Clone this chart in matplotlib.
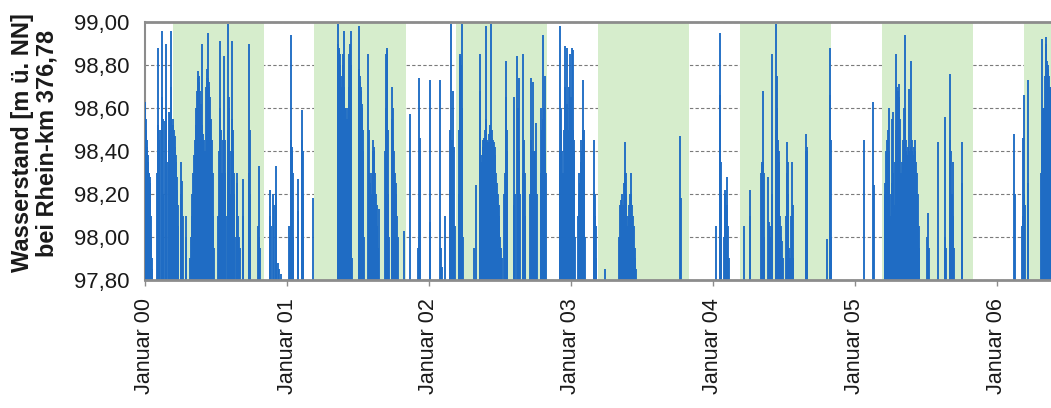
import datetime as dt
import matplotlib
matplotlib.use("Agg")
import matplotlib.pyplot as plt

# ---------------- data (day of year, water level) ----------------
years = [2000, 2001, 2002, 2003, 2004, 2005, 2006]

days_2000 = [0, 1, 2, 3, 4, 5, 6, 7, 8, 9, 10, 11, 12, 13, 14, 15, 16, 17, 18,
             32, 33, 34, 35, 36, 37, 42, 43, 44, 45, 46, 47, 52, 53, 54, 55, 56,
             61, 62, 65, 66, 67, 68,
             70, 71, 72, 73, 74, 75, 76, 77, 78, 79, 80, 81, 82, 83, 84, 85,
             92, 93, 96, 97, 105, 106,
             116, 118, 120, 122, 124, 126, 128, 130, 132, 134, 136, 137, 138, 140,
             142, 144, 146, 148, 150, 152, 154,
             158, 159, 160, 161, 162, 164, 166, 168, 170, 172, 174, 176, 178,
             188, 190, 192, 194, 195, 197, 198, 202, 204, 205, 206, 208,
             213, 214, 215, 216, 217, 218, 220, 224, 225, 226, 227, 228, 230, 232,
             236, 238, 240, 242, 244, 251, 252, 267, 268, 269, 270,
             292, 293, 294, 295, 321, 322, 324, 330, 332, 336, 337, 338,
             343, 346, 350]
level_2000 = [98.63, 98.62, 98.55, 98.50, 98.45, 98.42, 98.40, 98.38, 98.35, 98.33,
              98.30, 98.30, 98.28, 98.25, 98.20, 98.10, 98.00, 97.90, 97.85,
              98.30, 98.88, 98.52, 98.50, 98.45, 98.30, 98.50, 98.65, 98.96, 98.62,
              98.55, 98.20, 98.54, 98.90, 98.60, 98.50, 98.35,
              98.58, 98.45, 98.57, 98.96, 98.70, 98.55,
              98.50, 98.55, 98.52, 98.48, 98.50, 98.45, 98.47, 98.42, 98.40, 98.38,
              98.35, 98.30, 98.28, 98.22, 98.15, 98.05,
              98.35, 98.20, 98.26, 98.10, 98.10, 98.00,
              97.90, 98.00, 98.10, 98.20, 98.30, 98.38, 98.45, 98.52, 98.60, 98.68,
              98.74, 98.77, 98.75, 98.72, 98.68, 98.62, 98.90, 98.52, 98.48, 98.45,
              98.40,
              98.70, 98.74, 98.78, 98.95, 98.74, 98.72, 98.70, 98.65, 98.55, 98.45,
              98.30, 98.10, 97.95,
              98.10, 98.40, 98.60, 98.91, 98.50, 98.30, 98.20, 98.45, 98.84, 98.45,
              98.30, 98.10,
              98.50, 98.99, 98.65, 98.60, 98.50, 98.40, 98.20, 98.55, 98.91, 98.50,
              98.40, 98.30, 98.20, 98.00,
              98.30, 98.25, 98.10, 98.00, 97.95, 98.27, 98.10, 98.30, 98.90, 98.50,
              98.20,
              98.05, 98.33, 98.00, 97.95, 98.22, 98.10, 98.05, 98.20, 98.15, 98.33,
              98.20, 98.00,
              97.88, 97.85, 97.83]

days_2001 = [5, 7, 9, 10, 11, 12, 13, 14, 15, 27, 28, 29, 38, 39, 40, 41, 67,
             130, 131, 132, 133, 134, 135, 136, 137, 138, 139, 140, 141, 143, 144,
             146, 147, 148, 150, 152, 154, 156, 158, 160, 162, 163, 164, 165, 166,
             184, 185, 186, 187, 188, 189, 190, 191, 192, 193, 194, 195, 196, 198,
             209, 210, 212, 214, 216, 218, 220, 221, 223, 224, 226, 228, 230, 232,
             234, 237,
             252, 254, 255, 256, 257, 258, 259, 260, 262, 270, 271, 272, 273, 275,
             277, 279, 281, 283, 285, 301, 316, 336, 338, 340, 341, 342, 343]
level_2001 = [98.05, 98.00, 98.30, 98.94, 98.45, 98.42, 98.40, 98.30, 98.00,
              98.27, 98.12, 98.10, 98.59, 98.45, 98.40, 98.20, 98.18,
              98.85, 98.90, 98.99, 98.88, 98.87, 98.85, 98.80, 98.80, 98.75, 98.70,
              98.70, 98.50, 98.80, 98.85, 98.96, 98.70, 98.60, 98.58, 98.60, 98.55,
              98.60, 98.70, 98.85, 98.90, 98.96, 98.80, 98.50, 97.90,
              98.98, 98.78, 98.75, 98.75, 98.72, 98.70, 98.68, 98.65, 98.62, 98.60,
              98.50, 98.40, 98.30, 98.00,
              98.85, 98.50, 98.30, 98.25, 98.20, 98.30, 98.40, 98.45, 98.42, 98.40,
              98.30, 98.20, 98.15, 98.05, 97.95, 98.13,
              98.40, 98.60, 98.85, 98.88, 98.87, 98.80, 98.50, 98.20, 98.00, 98.55,
              98.70, 98.60, 98.45, 98.40, 98.30, 98.25, 98.20, 98.10, 98.00, 98.03,
              98.57, 97.95, 98.00, 98.74, 98.46, 98.40, 97.95]

days_2002 = [2, 3, 29, 30, 33, 41, 53, 55, 57, 58, 59, 63, 64, 67,
             76, 78, 80, 81, 82, 84, 85, 86, 88, 117, 121, 130,
             131, 132, 134, 136, 138, 140, 142, 144, 146, 147, 148, 150, 152, 154,
             156, 158, 160, 161, 163, 165, 167, 169, 171, 173, 175, 177, 179, 181,
             183, 186, 189,
             194, 196, 197, 199, 200, 201, 202, 218, 220, 221, 227, 228, 230, 231,
             232, 233, 241, 243, 244, 246, 248,
             259, 262, 263, 265, 268, 269, 271, 273, 276, 277,
             287, 289, 291, 293, 294, 295, 297, 298, 299, 300,
             336, 338, 339, 341, 343, 345, 347, 349, 350, 352, 354, 355, 357, 359,
             361, 362, 364]
level_2002 = [98.73, 98.07, 98.73, 97.95, 97.86, 98.10, 98.22, 98.50, 98.99, 98.45,
              98.40, 98.68, 98.42, 98.05,
              98.20, 98.50, 98.85, 98.84, 98.80, 98.99, 98.60, 98.40, 98.00, 97.95,
              98.24, 98.85,
              98.68, 98.50, 98.35, 98.38, 98.42, 98.45, 98.46, 98.50, 98.55, 98.98,
              98.47, 98.45, 98.44, 98.48, 98.50, 98.52, 98.99, 98.50, 98.46, 98.45,
              98.44, 98.42, 98.38, 98.30, 98.25, 98.20, 98.15, 98.10, 98.00, 97.95,
              97.90,
              98.20, 98.30, 98.65, 98.82, 98.50, 98.40, 98.10, 98.15, 98.65, 98.20,
              98.84, 98.60, 98.50, 98.74, 98.40, 98.20, 98.30, 98.85, 98.45, 98.30,
              98.10,
              98.20, 98.74, 98.45, 98.40, 98.72, 98.40, 98.30, 98.40, 98.53, 98.20,
              98.30, 98.60, 98.50, 98.55, 98.94, 98.60, 98.45, 98.75, 98.40, 98.30,
              98.40, 98.98, 98.60, 98.50, 98.40, 98.30, 98.50, 98.89, 98.70, 98.60,
              98.88, 98.62, 98.50, 98.40, 98.70, 98.85, 98.65]

days_2003 = [0, 1, 2, 3, 4, 5, 6, 7, 8, 9, 10,
             18, 20, 22, 24, 26, 27, 28, 30, 31, 32, 33, 34, 35, 36,
             59, 60, 61, 62, 64, 66, 89,
             125, 127, 129, 131, 133, 135, 137, 139, 140, 141, 143, 145, 147, 149,
             151, 153, 155, 156, 158, 160, 162, 164, 166, 168, 282, 283]
level_2003 = [98.65, 98.62, 98.60, 98.55, 98.88, 98.50, 98.87, 98.45, 98.40, 98.20,
              98.00,
              98.10, 98.20, 98.30, 98.25, 98.35, 98.45, 98.30, 98.40, 98.50, 98.73,
              98.50, 98.45, 98.30, 98.00,
              98.45, 98.21, 98.20, 98.10, 98.05, 97.90, 97.85,
              98.00, 98.15, 98.17, 98.10, 98.20, 98.15, 98.25, 98.30, 98.44, 98.30,
              98.20, 98.10, 98.05, 98.10, 98.15, 98.20, 98.30, 98.20, 98.15, 98.10,
              98.05, 97.95, 97.90, 97.85, 98.47, 98.18]

days_2004 = [9, 18, 19, 20, 21, 22, 30, 31, 33, 35, 37, 38, 39, 41, 81, 96, 97,
             124, 126, 127, 129, 130, 131, 133, 143, 144, 146, 148, 150, 153, 154,
             162, 164, 165, 166, 167, 168, 170, 171, 173, 175, 177, 179, 181,
             189, 191, 192, 193, 195, 197, 199, 203, 205, 206, 208,
             240, 241, 242, 243, 244, 295, 302, 303, 304, 305]
level_2004 = [98.05, 98.30, 98.95, 98.66, 98.35, 98.20, 98.00, 98.22, 98.20, 98.10,
              98.15, 98.28, 98.05, 97.90, 98.05, 98.22, 98.10,
              98.30, 98.34, 98.35, 98.68, 98.35, 98.30, 98.00, 98.28, 98.07, 98.05,
              98.00, 98.05, 98.85, 98.20,
              98.50, 98.99, 98.75, 98.60, 98.55, 98.45, 98.40, 98.35, 98.10, 98.05,
              98.00, 97.98, 97.90,
              98.10, 98.30, 98.44, 98.35, 98.20, 97.95, 97.90, 98.10, 98.35, 98.15,
              97.90,
              98.40, 98.48, 98.42, 98.40, 98.10, 97.99, 98.88, 98.66, 98.45, 98.00]

days_2005 = [23, 48, 49,
             77, 79, 81, 83, 85, 87, 88, 89, 91, 93, 95, 97, 98, 99, 101, 103, 105,
             107, 108, 110, 112, 114, 115, 116, 118, 120, 122, 124, 126, 128, 129,
             131, 133, 135, 137, 139, 140, 142, 144, 145, 146, 148, 150, 152, 154,
             156, 158, 160, 162, 164, 166,
             186, 188, 190, 214, 232, 233, 234, 244, 245, 246, 247, 249, 253, 254,
             256, 275, 276]
level_2005 = [98.45, 98.63, 98.24,
              98.20, 98.25, 98.40, 98.45, 98.50, 98.40, 98.60, 98.30, 98.20, 98.10,
              98.25, 98.55, 98.58, 98.30, 98.15, 98.35, 98.50, 98.85, 98.70, 98.67,
              98.68, 98.65, 98.71, 98.55, 98.30, 98.20, 98.35, 98.45, 98.60, 98.94,
              98.60, 98.45, 98.40, 98.38, 98.42, 98.40, 98.69, 98.40, 98.42, 98.82,
              98.45, 98.40, 98.38, 98.42, 98.45, 98.40, 98.35, 98.30, 98.20, 98.05,
              97.95,
              98.00, 98.11, 97.95, 98.44, 98.00, 98.56, 97.95, 98.30, 98.76, 98.45,
              98.40, 98.20, 98.35, 98.10, 97.95, 98.44, 98.25]

days_2006 = [46, 47, 66, 67, 68, 70, 71, 72, 80, 81,
             115, 117, 118, 119, 121, 123, 125, 126, 127, 128, 129, 131, 133, 135,
             137, 139, 140]
level_2006 = [98.48, 98.20, 98.05, 98.46, 98.10, 98.20, 98.66, 98.15, 98.73, 98.25,
              98.30, 98.50, 98.92, 98.60, 98.55, 98.60, 98.75, 98.93, 98.80, 98.90,
              98.82, 98.80, 98.78, 98.75, 98.70, 98.70, 98.68]

series_days = [days_2000, days_2001, days_2002, days_2003, days_2004, days_2005, days_2006]
series_levels = [level_2000, level_2001, level_2002, level_2003, level_2004, level_2005, level_2006]

season_start = (3, 12)   # month, day of green period start
season_end = (11, 2)     # month, day of green period end

tick_labels = ["Januar 00", "Januar 01", "Januar 02", "Januar 03",
               "Januar 04", "Januar 05", "Januar 06"]
y_ticks = [97.8, 98.0, 98.2, 98.4, 98.6, 98.8, 99.0]
y_tick_labels = ["97,80", "98,00", "98,20", "98,40", "98,60", "98,80", "99,00"]
x_end = dt.date(2006, 5, 21)

# ---------------- figure ----------------
plt.rcParams["font.family"] = ["Liberation Sans", "DejaVu Sans"]
W, H = 1051, 408
fig = plt.figure(figsize=(W / 100, H / 100), dpi=100)
left, right, top, bottom = 145, 1051, 22, 280
ax = fig.add_axes([left / W, 1 - bottom / H, (right - left) / W, (bottom - top) / H])

blue = "#1f6cc4"
green = "#d6edcc"
frame = "#8c8c8c"

for y in years:
    ax.axvspan(dt.date(y, *season_start), dt.date(y, *season_end),
               color=green, lw=0, zorder=2)

for y, ds, ls in zip(years, series_days, series_levels):
    dates = [dt.date(y, 1, 1) + dt.timedelta(days=d) for d in ds]
    ax.vlines(dates, 97.8, ls, color=blue, lw=1.35, zorder=3)

ax.set_xlim(dt.date(2000, 1, 1), x_end)
ax.set_ylim(97.8, 99.0)

ax.set_yticks(y_ticks)
ax.set_yticklabels(y_tick_labels)
ax.set_xticks([dt.date(y, 1, 1) for y in years])
ax.set_xticklabels(tick_labels, rotation=90, va="top", ha="center")

ax.set_axisbelow(True)
ax.yaxis.grid(True, linestyle=(0, (3, 2)), color="#7a7a7a", lw=0.8)

ax.tick_params(axis="y", length=0, pad=11, labelsize=16, labelcolor="#1a1a1a")
ax.tick_params(axis="x", length=4, width=1, color=frame, pad=9,
               labelsize=15.5, labelcolor="#1a1a1a")

for s in ["top", "bottom"]:
    ax.spines[s].set_color(frame)
    ax.spines[s].set_linewidth(2.0)
    ax.spines[s].set_zorder(5)
ax.spines["left"].set_color(frame)
ax.spines["left"].set_linewidth(1.5)
ax.spines["right"].set_visible(False)

fig.text(35 / W, 1 - 143 / H, "Wasserstand [m ü. NN]\nbei Rhein-km 376,78",
         rotation=90, ha="center", va="center", multialignment="center",
         fontsize=17, fontweight="bold", color="#1a1a1a", linespacing=1.1)

fig.savefig("out.png", dpi=100)
